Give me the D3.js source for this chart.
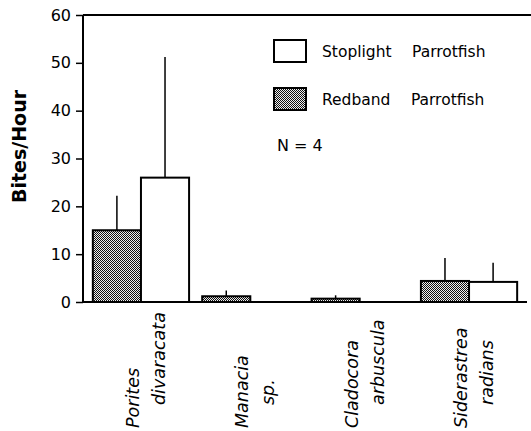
<!DOCTYPE html>
<html>
<head>
<meta charset="utf-8">
<script src="https://cdn.jsdelivr.net/npm/d3@7"></script>
<style>
  body { margin: 0; background: #fff; }
  svg { display: block; }
  text { font-family: "DejaVu Sans", sans-serif; fill: #000; }
</style>
</head>
<body>
<div id="viz"></div>
<script>
/***************** Data *********************/
var categories = ["Porites divaracata", "Manacia sp.", "Cladocora arbuscula", "Siderastrea radians"];
var labelLines = [["Porites", "divaracata"], ["Manacia", "sp."], ["Cladocora", "arbuscula"], ["Siderastrea", "radians"]];
var series = ["Redband", "Stoplight"];
var redbandMean = [15, 1.2, 0.7, 4.4];
var redbandErr = [22.2, 2.4, 1.4, 9.2];
var stoplightMean = [26, 0, 0, 4.2];
var stoplightErr = [51.2, null, null, 8.2];
var yTicks = [0, 10, 20, 30, 40, 50, 60];

/***************** Layout *********************/
var w = 531, h = 431,
    plotLeft = 83, plotRight = 527, plotTop = 15, plotBottom = 302;

var svg = d3.select("#viz")
    .append("svg")
    .attr("width", w)
    .attr("height", h);

/* dithered grey used by the redband bars */
var defs = svg.append("defs");
var pat = defs.append("pattern")
    .attr("id", "dots")
    .attr("patternUnits", "userSpaceOnUse")
    .attr("width", 2)
    .attr("height", 2);
pat.append("rect").attr("width", 2).attr("height", 2).attr("fill", "#eee");
pat.append("rect").attr("width", 1).attr("height", 1).attr("fill", "#111");
pat.append("rect").attr("x", 1).attr("y", 1).attr("width", 1).attr("height", 1).attr("fill", "#111");

var x = d3.scaleBand().domain(categories).range([plotLeft, plotRight]).paddingInner(0.12).paddingOuter(0.09);
var xs = d3.scaleBand().domain(series).range([0, x.bandwidth()]);
var y = d3.scaleLinear().domain([0, 60]).range([plotBottom, plotTop]);

var rows = categories.map(function(c, i) {
  return [
    {cat: c, s: "Redband", v: redbandMean[i], e: redbandErr[i]},
    {cat: c, s: "Stoplight", v: stoplightMean[i], e: stoplightErr[i]}
  ];
});
var flat = [].concat.apply([], rows);

/***************** Bars *********************/
svg.selectAll(".bar").data(flat.filter(function(d) { return d.v > 0; }))
  .enter().append("rect")
    .attr("class", "bar")
    .attr("x", function(d) { return x(d.cat) + xs(d.s); })
    .attr("y", function(d) { return y(d.v); })
    .attr("width", xs.bandwidth())
    .attr("height", function(d) { return y(0) - y(d.v); })
    .attr("fill", function(d) { return d.s === "Redband" ? "url(#dots)" : "#fff"; })
    .attr("stroke", "#000")
    .attr("stroke-width", 2);

/* error bars: upper whisker only */
svg.selectAll(".err").data(flat.filter(function(d) { return d.e != null; }))
  .enter().append("line")
    .attr("class", "err")
    .attr("x1", function(d) { return x(d.cat) + xs(d.s) + xs.bandwidth() / 2; })
    .attr("x2", function(d) { return x(d.cat) + xs(d.s) + xs.bandwidth() / 2; })
    .attr("y1", function(d) { return y(d.v); })
    .attr("y2", function(d) { return y(d.e); })
    .attr("stroke", "#000")
    .attr("stroke-width", 1.5);

/***************** Axes *********************/
var yAxis = d3.axisLeft(y).tickValues(yTicks).tickSize(7).tickPadding(5);
var gy = svg.append("g")
    .attr("transform", "translate(" + plotLeft + ",0)")
    .call(yAxis);
gy.select(".domain").remove();
gy.selectAll("line").attr("stroke", "#000").attr("stroke-width", 1.5);
gy.selectAll("text").style("font-size", "16px").attr("fill", "#000");

svg.append("line")
    .attr("x1", plotLeft).attr("x2", plotLeft)
    .attr("y1", y(60)).attr("y2", y(0))
    .attr("stroke", "#000").attr("stroke-width", 2);
svg.append("line")
    .attr("x1", plotLeft).attr("x2", w)
    .attr("y1", y(60)).attr("y2", y(60))
    .attr("stroke", "#000").attr("stroke-width", 2);
svg.append("line")
    .attr("x1", plotLeft).attr("x2", plotRight)
    .attr("y1", y(0)).attr("y2", y(0))
    .attr("stroke", "#000").attr("stroke-width", 2);

svg.append("text")
    .attr("transform", "translate(26," + ((plotTop + plotBottom) / 2 - 12) + ") rotate(-90)")
    .style("text-anchor", "middle")
    .style("font-weight", "bold")
    .style("font-size", "19px")
    .text("Bites/Hour");

/* category labels, two rotated italic lines each */
var lab = svg.selectAll(".cat").data(categories)
  .enter().append("g")
    .attr("class", "cat");
lab.append("text")
    .attr("transform", function(d) { return "translate(" + (x(d) + 46) + ",428) rotate(-90)"; })
    .style("font-style", "italic")
    .style("font-size", "17.5px")
    .text(function(d, i) { return labelLines[i][0]; });
lab.append("text")
    .attr("transform", function(d) { return "translate(" + (x(d) + 72) + ",405) rotate(-90)"; })
    .style("font-style", "italic")
    .style("font-size", "17.5px")
    .text(function(d, i) { return labelLines[i][1]; });

/***************** Legend *********************/
var legend = [{name: "Stoplight", label: "Stoplight\u2003 Parrotfish", fill: "#fff", y: 40},
              {name: "Redband", label: "Redband\u2003 Parrotfish", fill: "url(#dots)", y: 88}];
var lg = svg.selectAll(".legend").data(legend)
  .enter().append("g")
    .attr("class", "legend");
lg.append("rect")
    .attr("x", 274).attr("y", function(d) { return d.y; })
    .attr("width", 32).attr("height", 22)
    .attr("fill", function(d) { return d.fill; })
    .attr("stroke", "#000").attr("stroke-width", 2);
lg.append("text")
    .attr("x", 322).attr("y", function(d) { return d.y + 17; })
    .style("font-size", "15.5px")
    .text(function(d) { return d.label; });

svg.append("text")
    .attr("x", 277).attr("y", 151)
    .style("font-size", "16px")
    .text("N = 4");
</script>
</body>
</html>
